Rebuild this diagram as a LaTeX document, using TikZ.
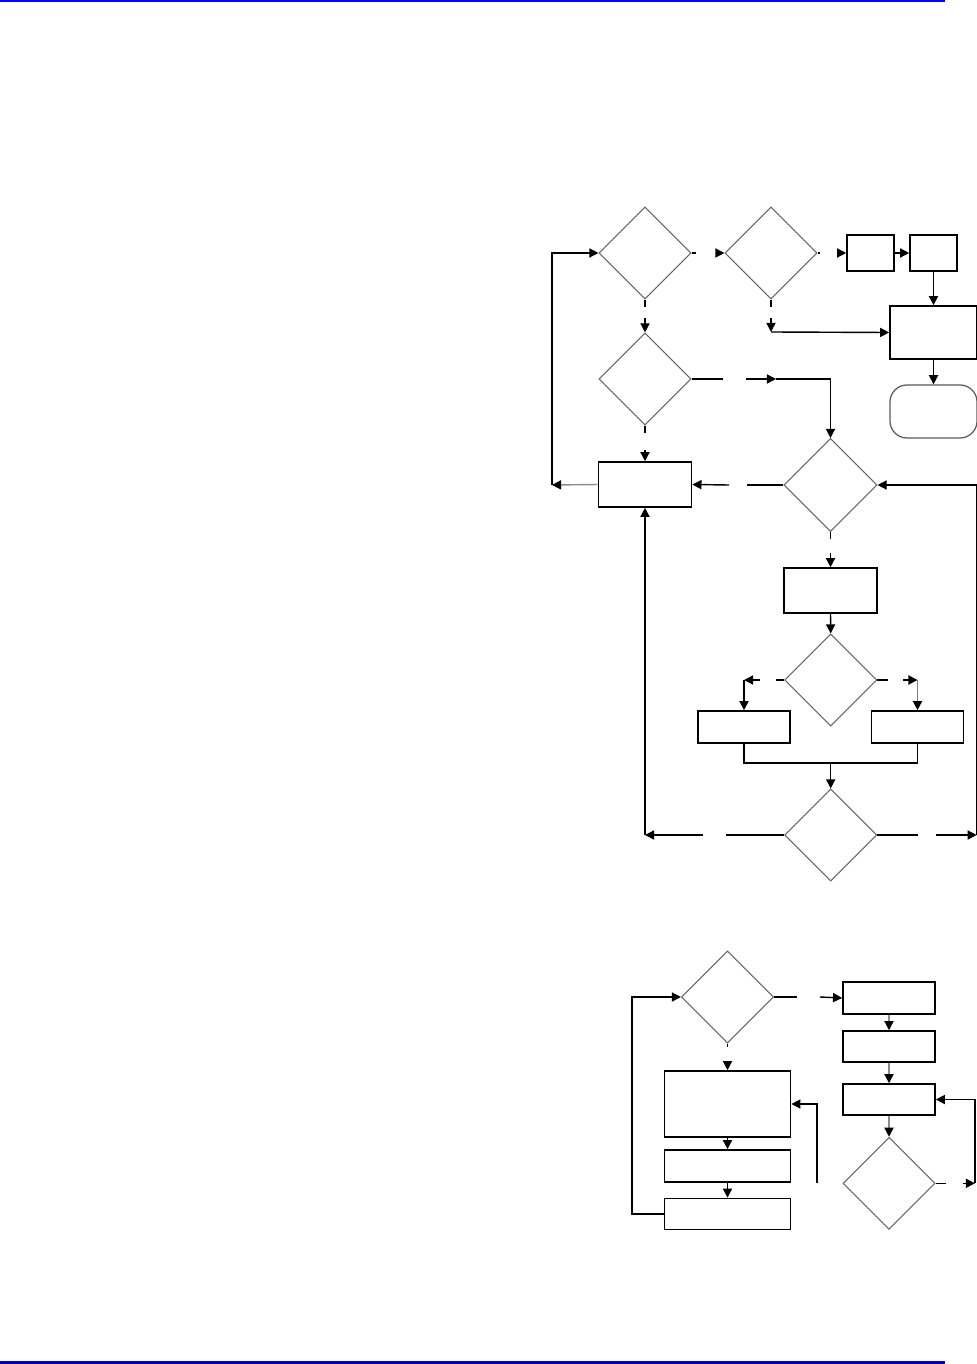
\documentclass[tikz,border=0pt]{standalone}
\usepackage{tikz}
\usetikzlibrary{arrows.meta,shapes.geometric}
\definecolor{navyline}{rgb}{0,0,0.7}

\begin{document}
\begin{tikzpicture}[x=0.01cm,y=-0.01cm,>={Triangle[length=2.6pt,width=2.6pt,color=black]},
  every path/.style={line width=0.4pt},
  dec/.style={diamond,draw=black!60,line width=0.3pt,aspect=1,inner sep=0,minimum width=0.92cm,minimum height=0.92cm},
  proc/.style={rectangle,draw,line width=0.45pt,inner sep=0},
  term/.style={rectangle,draw=black!65,line width=0.35pt,rounded corners=0.17cm,inner sep=0}]
  \useasboundingbox (0,0) rectangle (977,1364);
  % page rules
  \draw[blue,line width=0.6pt] (0,1) -- (945,1);
  \draw[navyline,line width=0.6pt] (0,1362.5) -- (945,1362.5);

  % upper chart
  \node[dec] (D1) at (645,253) {};
  \node[dec] (D2) at (771,253) {};
  \node[proc,minimum width=0.47cm,minimum height=0.36cm] (B1) at (870.5,253) {};
  \node[proc,minimum width=0.47cm,minimum height=0.36cm] (B2) at (933.5,253) {};
  \node[proc,minimum width=0.87cm,minimum height=0.53cm] (B3) at (933.5,332.5) {};
  \node[term,minimum width=0.87cm,minimum height=0.53cm] (T) at (933.5,411.5) {};
  \node[dec] (D3) at (645,379) {};
  \node[dec,minimum width=0.93cm,minimum height=0.93cm] (D4) at (830.5,485) {};
  \node[proc,minimum width=0.93cm,minimum height=0.45cm] (B4) at (645,484.5) {};
  \node[proc,minimum width=0.93cm,minimum height=0.45cm] (B5) at (830.5,590.5) {};
  \node[dec] (D5) at (830.7,680) {};
  \node[proc,minimum width=0.92cm,minimum height=0.32cm] (B6) at (744,727) {};
  \node[proc,minimum width=0.92cm,minimum height=0.32cm] (B7) at (917.5,727) {};
  \node[dec] (D6) at (830.7,835) {};
  \coordinate (mrg) at (830.7,763);

  \draw (D1.east) -- (696,253);
  \draw[->] (718,253) -- (D2.west);
  \draw (D2.east) -- (820,253);
  \draw[->] (838,253) -- (B1.west);
  \draw[->] (B1.east) -- (B2.west);
  \draw[->] (B2.south) -- (B3.north);
  \draw[->] (B3.south) -- (T.north);
  \draw (D1.south) -- (645,307);
  \draw[->] (645,318) -- (D3.north);
  \draw (D2.south) -- (771,307);
  \draw[->] (771,318) -- (771,332);
  \draw[->] (771,332) -- (B3.west);
  \draw (D3.east) -- (723,379);
  \draw[->] (746,379) -- (776,379);
  \draw[->] (776,379) -| (D4.north);
  \draw (D3.south) -- (645,433);
  \draw[->] (645,450) -- (B4.north);
  \draw[->,draw=black!45] (B4.west) -- (552,485);
  \draw[->] (552,485) |- (D1.west);
  \draw (D4.west) -- (747,485);
  \draw[->] (729,485) -- (B4.east);
  \draw (D4.south) -- (830.5,539);
  \draw[->] (830.5,553) -- (B5.north);
  \draw[->] (B5.south) -- (D5.north);
  \draw (D5.west) -- (776,680);
  \draw[->] (760,680) -- (744,680);
  \draw[->] (744,680) -- (B6.north);
  \draw (D5.east) -- (888,680);
  \draw[->] (903,680) -- (917.5,680);
  \draw[->,draw=black!50] (917.5,680) -- (B7.north);
  \draw (B6.south) |- (mrg) -| (B7.south);
  \draw[->] (mrg) -- (D6.north);
  \draw (D6.west) -- (726,835);
  \draw[->] (703,835) -- (645,835);
  \draw[->] (645,835) -- (B4.south);
  \draw (D6.east) -- (918,835);
  \draw[->] (936,835) -- (976.7,835);
  \draw[->] (976.7,835) |- (D4.east);

  % lower chart
  \node[dec] (D7) at (727.5,997) {};
  \node[proc,minimum width=0.92cm,minimum height=0.32cm] (B8) at (889,998) {};
  \node[proc,minimum width=0.92cm,minimum height=0.31cm] (B9) at (889,1046.5) {};
  \node[proc,minimum width=0.92cm,minimum height=0.31cm] (B10) at (889,1099.5) {};
  \node[dec] (D8) at (889,1183.3) {};
  \node[proc,minimum width=1.26cm,minimum height=0.66cm] (B12) at (727.5,1104) {};
  \node[proc,minimum width=1.26cm,minimum height=0.32cm] (B13) at (727.5,1166) {};
  \node[proc,minimum width=1.26cm,minimum height=0.31cm] (B11) at (727.5,1214) {};

  \draw[->] (B11.west) -- (632,1214) |- (D7.west);
  \draw (D7.east) -- (797,997);
  \draw[->] (820,997) -- (B8.west);
  \draw[->,draw=black!45] (B8.south) -- (B9.north);
  \draw[->,draw=black!45] (B9.south) -- (B10.north);
  \draw[->,draw=black!45] (B10.south) -- (D8.north);
  \draw (D8.east) -- (946,1183.3);
  \draw[->] (963,1183.3) -- (975,1183.3);
  \draw[->] (975,1183.3) |- (B10.east);
  \draw[->] (817,1183.3) |- (B12.east);
  \draw (D7.south) -- (727.5,1047);
  \draw[->] (727.5,1062) -- (B12.north);
  \draw[->] (B12.south) -- (B13.north);
  \draw[->] (B13.south) -- (B11.north);
\end{tikzpicture}
\end{document}
